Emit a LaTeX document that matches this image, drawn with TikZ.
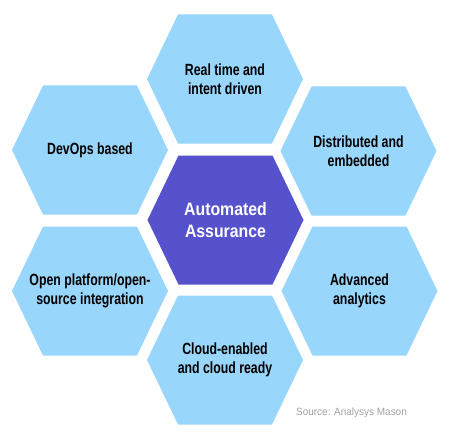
\documentclass[tikz,border=0pt]{standalone}
\usepackage{fontspec}
\setmainfont{Liberation Sans}
\newfontfamily\hexfont[FakeStretch=0.76]{Liberation Sans}
\newfontfamily\corefont[FakeStretch=0.88]{Liberation Sans}
\newfontfamily\notefont[FakeStretch=0.95]{Liberation Sans}
\usepackage{tikz}
\usetikzlibrary{calc}

\definecolor{hexblue}{RGB}{152,214,252}
\definecolor{hexpurple}{RGB}{86,82,204}
\definecolor{notegray}{RGB}{160,160,160}

\newcommand{\hexcell}[2]{%
  \fill[#1, shift={(#2)}] (-78,0) -- (-47,-64.5) -- (47,-64.5) -- (78,0)
    -- (47,64.5) -- (-47,64.5) -- cycle;}

\tikzset{
  celltext/.style={align=center, text=black, inner sep=0pt,
    font=\hexfont\bfseries\fontsize{16.2}{18.5}\selectfont},
  coretext/.style={align=center, text=white, inner sep=0pt,
    font=\corefont\bfseries\fontsize{18}{22}\selectfont},
  sourcetext/.style={text=notegray, inner sep=0pt,
    font=\notefont\fontsize{10.5}{12}\selectfont}
}

\begin{document}
\begin{tikzpicture}[x=1pt, y=-1pt]
        \useasboundingbox (0,0) rectangle (461,444);

        % centres of the cells
        \foreach \name/\cx/\cy in {core/225.5/220, realtime/225/79, distributed/358.5/151,
          analytics/359.5/291, cloud/225/360, openplat/90/291, devops/90/150}
          {\coordinate (\name) at (\cx,\cy);}

        \foreach \name in {realtime, distributed, analytics, cloud, openplat, devops}
          {\hexcell{hexblue}{\name}}
        \hexcell{hexpurple}{core}

        \node[coretext] (coreLbl) at (core) {Automated\\Assurance};
        \node[celltext] (realtimeLbl) at (realtime) {Real time and\\intent driven};
        \node[celltext] (distributedLbl) at (distributed) {Distributed and\\embedded};
        \node[celltext] (analyticsLbl) at (analytics) {Advanced\\analytics};
        \node[celltext] (cloudLbl) at (cloud) {Cloud-enabled\\and cloud ready};
        \node[celltext] (openplatLbl) at (openplat) {Open platform/open-\\source integration};
        \node[celltext] (devopsLbl) at (devops) {DevOps based};

        \node[sourcetext] (sourceLbl) at (351.5,413) {Source: Analysys Mason};
    \end{tikzpicture}
\end{document}
